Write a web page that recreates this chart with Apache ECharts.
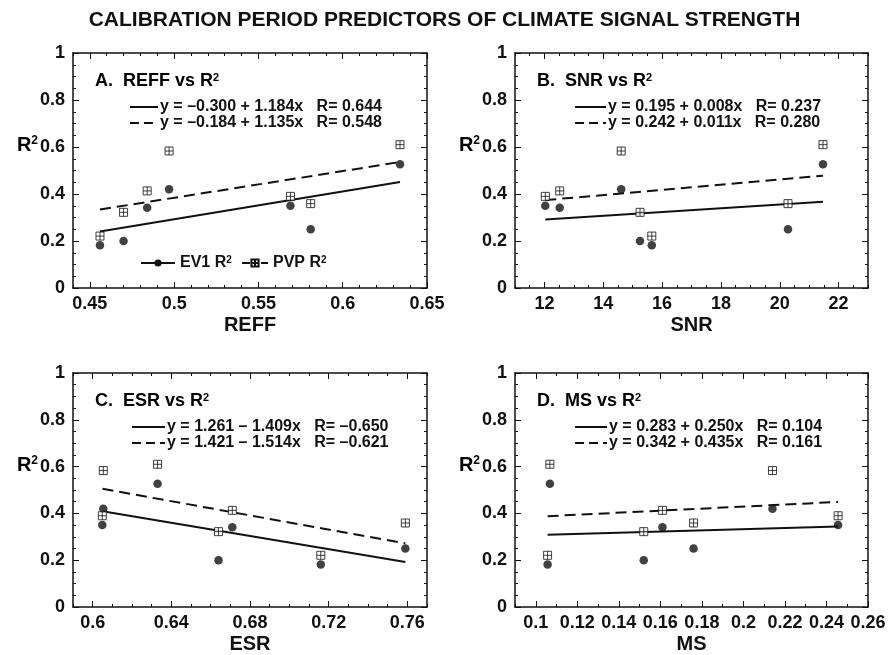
<!DOCTYPE html>
<html>
<head>
<meta charset="utf-8">
<script src="https://cdn.jsdelivr.net/npm/echarts@6/dist/echarts.min.js"></script>
<style>
html,body{margin:0;padding:0;background:#fff}
#chart{width:889px;height:655px}
</style>
</head>
<body>
<div id="chart"></div>
<script>
// ---- data (7 sites) ----
const ev1R2 = [0.182, 0.200, 0.341, 0.420, 0.350, 0.250, 0.527];
const pvpR2 = [0.221, 0.322, 0.413, 0.583, 0.390, 0.359, 0.610];
const reff = [0.456, 0.470, 0.484, 0.497, 0.569, 0.581, 0.634];
const snr  = [15.65, 15.25, 12.52, 14.61, 12.03, 20.28, 21.47];
const esr  = [0.716, 0.664, 0.671, 0.6054, 0.6049, 0.759, 0.633];
const ms   = [0.1057, 0.152, 0.161, 0.214, 0.2456, 0.176, 0.1068];

// fitted lines, end points: [[xStart, yStart], [xEnd, yEnd]]
const fitReffEv1 = [[0.456, 0.240], [0.634, 0.451]];
const fitReffPvp = [[0.456, 0.334], [0.634, 0.536]];
const fitSnrEv1  = [[12.03, 0.291], [21.47, 0.367]];
const fitSnrPvp  = [[12.03, 0.374], [21.47, 0.478]];
const fitEsrEv1  = [[0.605, 0.409], [0.759, 0.192]];
const fitEsrPvp  = [[0.605, 0.505], [0.759, 0.272]];
const fitMsEv1   = [[0.1057, 0.309], [0.2456, 0.344]];
const fitMsPvp   = [[0.1057, 0.388], [0.2456, 0.449]];

// tick labels
const xTicksReff = [0.45, 0.5, 0.55, 0.6, 0.65];
const xTicksSnr  = [12, 14, 16, 18, 20, 22];
const xTicksEsr  = [0.6, 0.64, 0.68, 0.72, 0.76];
const xTicksMs   = [0.1, 0.12, 0.14, 0.16, 0.18, 0.2, 0.22, 0.24, 0.26];
const yTicks     = [0, 0.2, 0.4, 0.6, 0.8, 1];

// texts
const chartTitle = 'CALIBRATION PERIOD PREDICTORS OF CLIMATE SIGNAL STRENGTH';
const axisNames = ['REFF', 'SNR', 'ESR', 'MS'];
const panelTitles = ['A.  REFF vs R', 'B.  SNR vs R', 'C.  ESR vs R', 'D.  MS vs R'];
const eqEv1 = ['y = \u20130.300 + 1.184x   R= 0.644', 'y = 0.195 + 0.008x   R= 0.237',
               'y = 1.261 \u2013 1.409x   R= \u20130.650', 'y = 0.283 + 0.250x   R= 0.104'];
const eqPvp = ['y = \u20130.184 + 1.135x   R= 0.548', 'y = 0.242 + 0.011x   R= 0.280',
               'y = 1.421 \u2013 1.514x   R= \u20130.621', 'y = 0.342 + 0.435x   R= 0.161'];
const seriesNames = ['EV1 R\u00b2', 'PVP R\u00b2'];

// ---- layout / style ----
const FONT = '"Liberation Sans", Arial, Helvetica, sans-serif';
const INK = '#111';
const BOXPLUS = 'path://M0,0H10V10H0Z M5,0V10 M0,5H10';
const grids = [
  {left: 73,  top: 53,  width: 354, height: 235},
  {left: 515, top: 53,  width: 353, height: 235},
  {left: 73,  top: 373, width: 354, height: 238},
  {left: 515, top: 373, width: 353, height: 238}
];
const eqTextOffset = [87, 93, 94, 94];
const eqSampleStart = [57, 60, 59, 60];
const panels = [
  {x: reff, ticks: xTicksReff, min: 0.44, max: 0.65, minor: 0.01, fitE: fitReffEv1, fitP: fitReffPvp},
  {x: snr,  ticks: xTicksSnr,  min: 11,   max: 23,   minor: 0.5,  fitE: fitSnrEv1,  fitP: fitSnrPvp},
  {x: esr,  ticks: xTicksEsr,  min: 0.59, max: 0.77, minor: 0.01, fitE: fitEsrEv1,  fitP: fitEsrPvp},
  {x: ms,   ticks: xTicksMs,   min: 0.09, max: 0.26, minor: 0.01, fitE: fitMsEv1,   fitP: fitMsPvp}
];

const boldText = (size) => ({color: INK, fontSize: size, fontWeight: 'bold', fontFamily: FONT});
const supRich = (size, supSize) => ({
  m: boldText(size),
  s: Object.assign(boldText(supSize), {verticalAlign: 'top'})
});

const xAxis = [], yAxis = [], series = [], graphic = [];
const axisLine = {show: true, lineStyle: {color: INK, width: 1.5}};
const tickStyle = {color: INK, width: 1};

panels.forEach((p, i) => {
  const g = grids[i];
  const base = {type: 'value', gridIndex: i, min: p.min, max: p.max, splitLine: {show: false}};
  // bottom major (labels + long ticks)
  xAxis.push(Object.assign({}, base, {
    position: 'bottom', axisLine: axisLine,
    axisTick: {show: true, inside: true, length: 6, customValues: p.ticks, lineStyle: tickStyle},
    axisLabel: Object.assign({show: true, customValues: p.ticks, margin: 7}, boldText(18)),
    name: axisNames[i], nameLocation: 'middle', nameGap: 27, nameTextStyle: boldText(20)
  }));
  // bottom minor ticks
  xAxis.push(Object.assign({}, base, {
    position: 'bottom', interval: p.minor, axisLine: {show: false},
    axisTick: {show: true, inside: true, length: 3, lineStyle: tickStyle}, axisLabel: {show: false}
  }));
  // top major
  xAxis.push(Object.assign({}, base, {
    position: 'top', axisLine: axisLine,
    axisTick: {show: true, inside: true, length: 6, customValues: p.ticks, lineStyle: tickStyle},
    axisLabel: {show: false}
  }));
  // top minor
  xAxis.push(Object.assign({}, base, {
    position: 'top', interval: p.minor, axisLine: {show: false},
    axisTick: {show: true, inside: true, length: 3, lineStyle: tickStyle}, axisLabel: {show: false}
  }));

  const ybase = {
    type: 'value', gridIndex: i, min: 0, max: 1, interval: 0.2, splitLine: {show: false},
    axisLine: axisLine,
    axisTick: {show: true, inside: true, length: 6, lineStyle: tickStyle},
    minorTick: {show: true, splitNumber: 4, length: 3, lineStyle: tickStyle},
    minorSplitLine: {show: false}
  };
  yAxis.push(Object.assign({}, ybase, {
    position: 'left',
    axisLabel: Object.assign({show: true, margin: 8, customValues: yTicks}, boldText(18))
  }));
  yAxis.push(Object.assign({}, ybase, {position: 'right', axisLabel: {show: false}}));

  const xi = i * 4, yi = i * 2;
  series.push({
    type: 'line', name: seriesNames[0], xAxisIndex: xi, yAxisIndex: yi, data: p.fitE,
    symbol: 'circle', symbolSize: 8, showSymbol: false, silent: true, z: 2,
    lineStyle: {color: INK, width: 2, type: 'solid'}, itemStyle: {color: INK}
  });
  series.push({
    type: 'line', name: seriesNames[1], xAxisIndex: xi, yAxisIndex: yi, data: p.fitP,
    symbol: BOXPLUS, symbolSize: 8, showSymbol: false, silent: true, z: 2,
    lineStyle: {color: INK, width: 2, type: [11, 6]},
    itemStyle: {color: '#fff', borderColor: INK, borderWidth: 1}
  });
  series.push({
    type: 'scatter', name: 'EV1 points', xAxisIndex: xi, yAxisIndex: yi, z: 3,
    data: p.x.map((v, k) => [v, ev1R2[k]]),
    symbol: 'circle', symbolSize: 8.5, itemStyle: {color: INK}
  });
  series.push({
    type: 'scatter', name: 'PVP points', xAxisIndex: xi, yAxisIndex: yi, z: 4,
    data: p.x.map((v, k) => [v, pvpR2[k]]),
    symbol: BOXPLUS, symbolSize: 8, itemStyle: {color: '#fff', borderColor: INK, borderWidth: 1}
  });

  // panel annotations
  graphic.push({
    type: 'text', x: g.left + 22, y: g.top + 28,
    style: {text: '{m|' + panelTitles[i] + '}{s|2}', rich: supRich(18, 11), verticalAlign: 'middle', align: 'left'}
  });
  const eqY = [g.top + 54, g.top + 70];
  const tx = g.left + eqTextOffset[i];
  const sx = g.left + eqSampleStart[i];
  graphic.push({type: 'line', shape: {x1: sx, y1: eqY[0], x2: tx - 2, y2: eqY[0]},
    style: {stroke: INK, lineWidth: 2}});
  graphic.push({type: 'line', shape: {x1: sx, y1: eqY[1], x2: tx - 2, y2: eqY[1]},
    style: {stroke: INK, lineWidth: 2, lineDash: [9, 5]}});
  graphic.push({type: 'text', x: tx, y: eqY[0],
    style: {text: eqEv1[i], verticalAlign: 'middle', align: 'left', fill: INK, font: 'bold 16px ' + FONT}});
  graphic.push({type: 'text', x: tx, y: eqY[1],
    style: {text: eqPvp[i], verticalAlign: 'middle', align: 'left', fill: INK, font: 'bold 16px ' + FONT}});
  // y axis name R²
  graphic.push({
    type: 'text', x: g.left - 35, y: g.top + 92,
    style: {text: '{m|R}{s|2}', rich: supRich(20, 12), verticalAlign: 'middle', align: 'right'}
  });
});

const legendText = Object.assign(boldText(16), {rich: supRich(16, 10)});
const legendFormatter = n => '{m|' + n.replace('\u00b2', '') + '}{s|2}';

const chart = echarts.init(document.getElementById('chart'), null, {renderer: 'canvas'});
chart.setOption({
  animation: false,
  backgroundColor: '#fff',
  title: {text: chartTitle, left: 'center', top: 5, textStyle: boldText(21)},
  grid: grids.map(g => Object.assign({containLabel: false}, g)),
  legend: [
    {
      data: [seriesNames[0]], left: 140, top: 255, padding: 0,
      itemWidth: 34, itemHeight: 9, selectedMode: false,
      formatter: legendFormatter, textStyle: legendText
    },
    {
      data: [{name: seriesNames[1], lineStyle: {type: [8, 11]}}], left: 241, top: 255, padding: 0,
      itemWidth: 26, itemHeight: 9, selectedMode: false,
      formatter: legendFormatter, textStyle: legendText
    }
  ],
  xAxis: xAxis,
  yAxis: yAxis,
  series: series,
  graphic: graphic
});
</script>
</body>
</html>
